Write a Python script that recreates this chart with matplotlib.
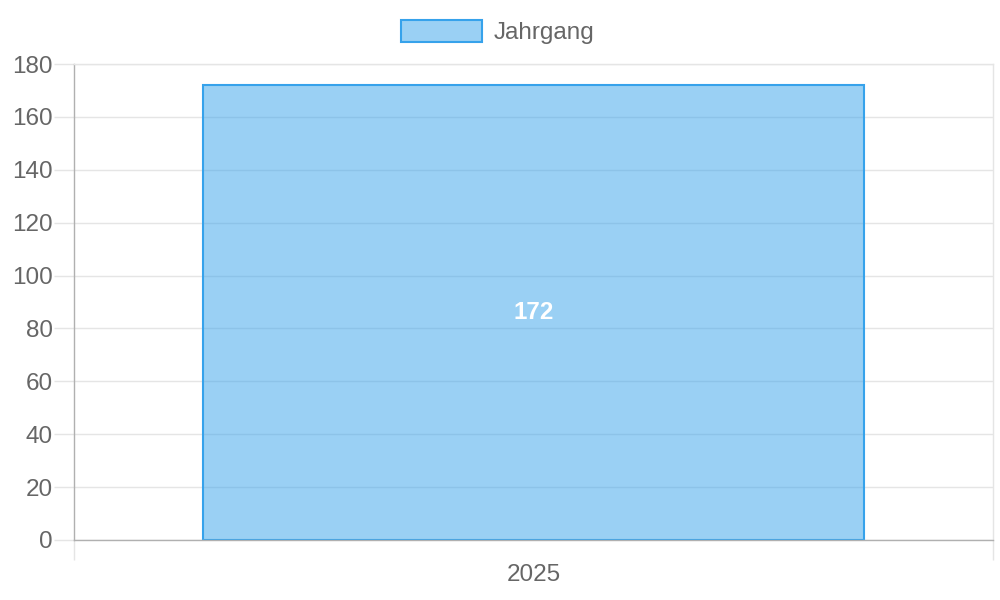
import matplotlib.pyplot as plt
from matplotlib.patches import Patch

## chart data
categories = ["2025"]
values = [172]
series_name = "Jahrgang"

plt.rcParams['font.family'] = ['Liberation Sans', 'DejaVu Sans']

fig = plt.figure(figsize=(10, 6), dpi=100)
ax = fig.add_axes([0.074, 0.1, 0.919, 0.7933])

fill = (54/255, 162/255, 235/255, 0.5)
edge = "#36A2EB"
grid_c = "#e5e5e5"
axis_c = "#b0b0b0"
text_c = "#666666"
fs = 17.5

bars = ax.bar(range(len(categories)), values, width=0.72, color=fill,
              edgecolor=edge, linewidth=1.5, zorder=2)

## value labels in the middle of each bar
for b, v in zip(bars, values):
    ax.text(b.get_x() + b.get_width() / 2, v / 2, str(v), ha="center", va="center",
            color="white", fontsize=fs, fontweight="bold", zorder=3)

ax.set_xlim(-0.5, len(categories) - 0.5)
ax.set_ylim(0, 180)
ax.set_yticks(range(0, 181, 20))
ax.set_xticks(range(len(categories)))
ax.set_xticklabels(categories)
ax.set_xticks([i - 0.5 for i in range(len(categories) + 1)], minor=True)

ax.set_axisbelow(True)
ax.yaxis.grid(True, color=grid_c, linewidth=1)
ax.tick_params(axis="y", length=14.4, width=1, color=grid_c, pad=1,
               labelsize=fs, labelcolor=text_c)
ax.tick_params(axis="x", which="major", length=0, pad=17, labelsize=fs, labelcolor=text_c)
ax.tick_params(axis="x", which="minor", length=14.4, width=1, color=grid_c)

ax.spines["left"].set_color(axis_c)
ax.spines["bottom"].set_color(axis_c)
ax.spines["top"].set_color(grid_c)
ax.spines["right"].set_color(grid_c)
for s in ax.spines.values():
    s.set_linewidth(1)

## legend on top
handle = Patch(facecolor=fill, edgecolor=edge, linewidth=1.5, label=series_name)
leg = fig.legend(handles=[handle], loc="upper center", bbox_to_anchor=(0.498, 1.003),
                 frameon=False, fontsize=fs, handlelength=3.3, handleheight=1.0,
                 handletextpad=0.5)
for t in leg.get_texts():
    t.set_color(text_c)

fig.savefig("out.png", dpi=100)
